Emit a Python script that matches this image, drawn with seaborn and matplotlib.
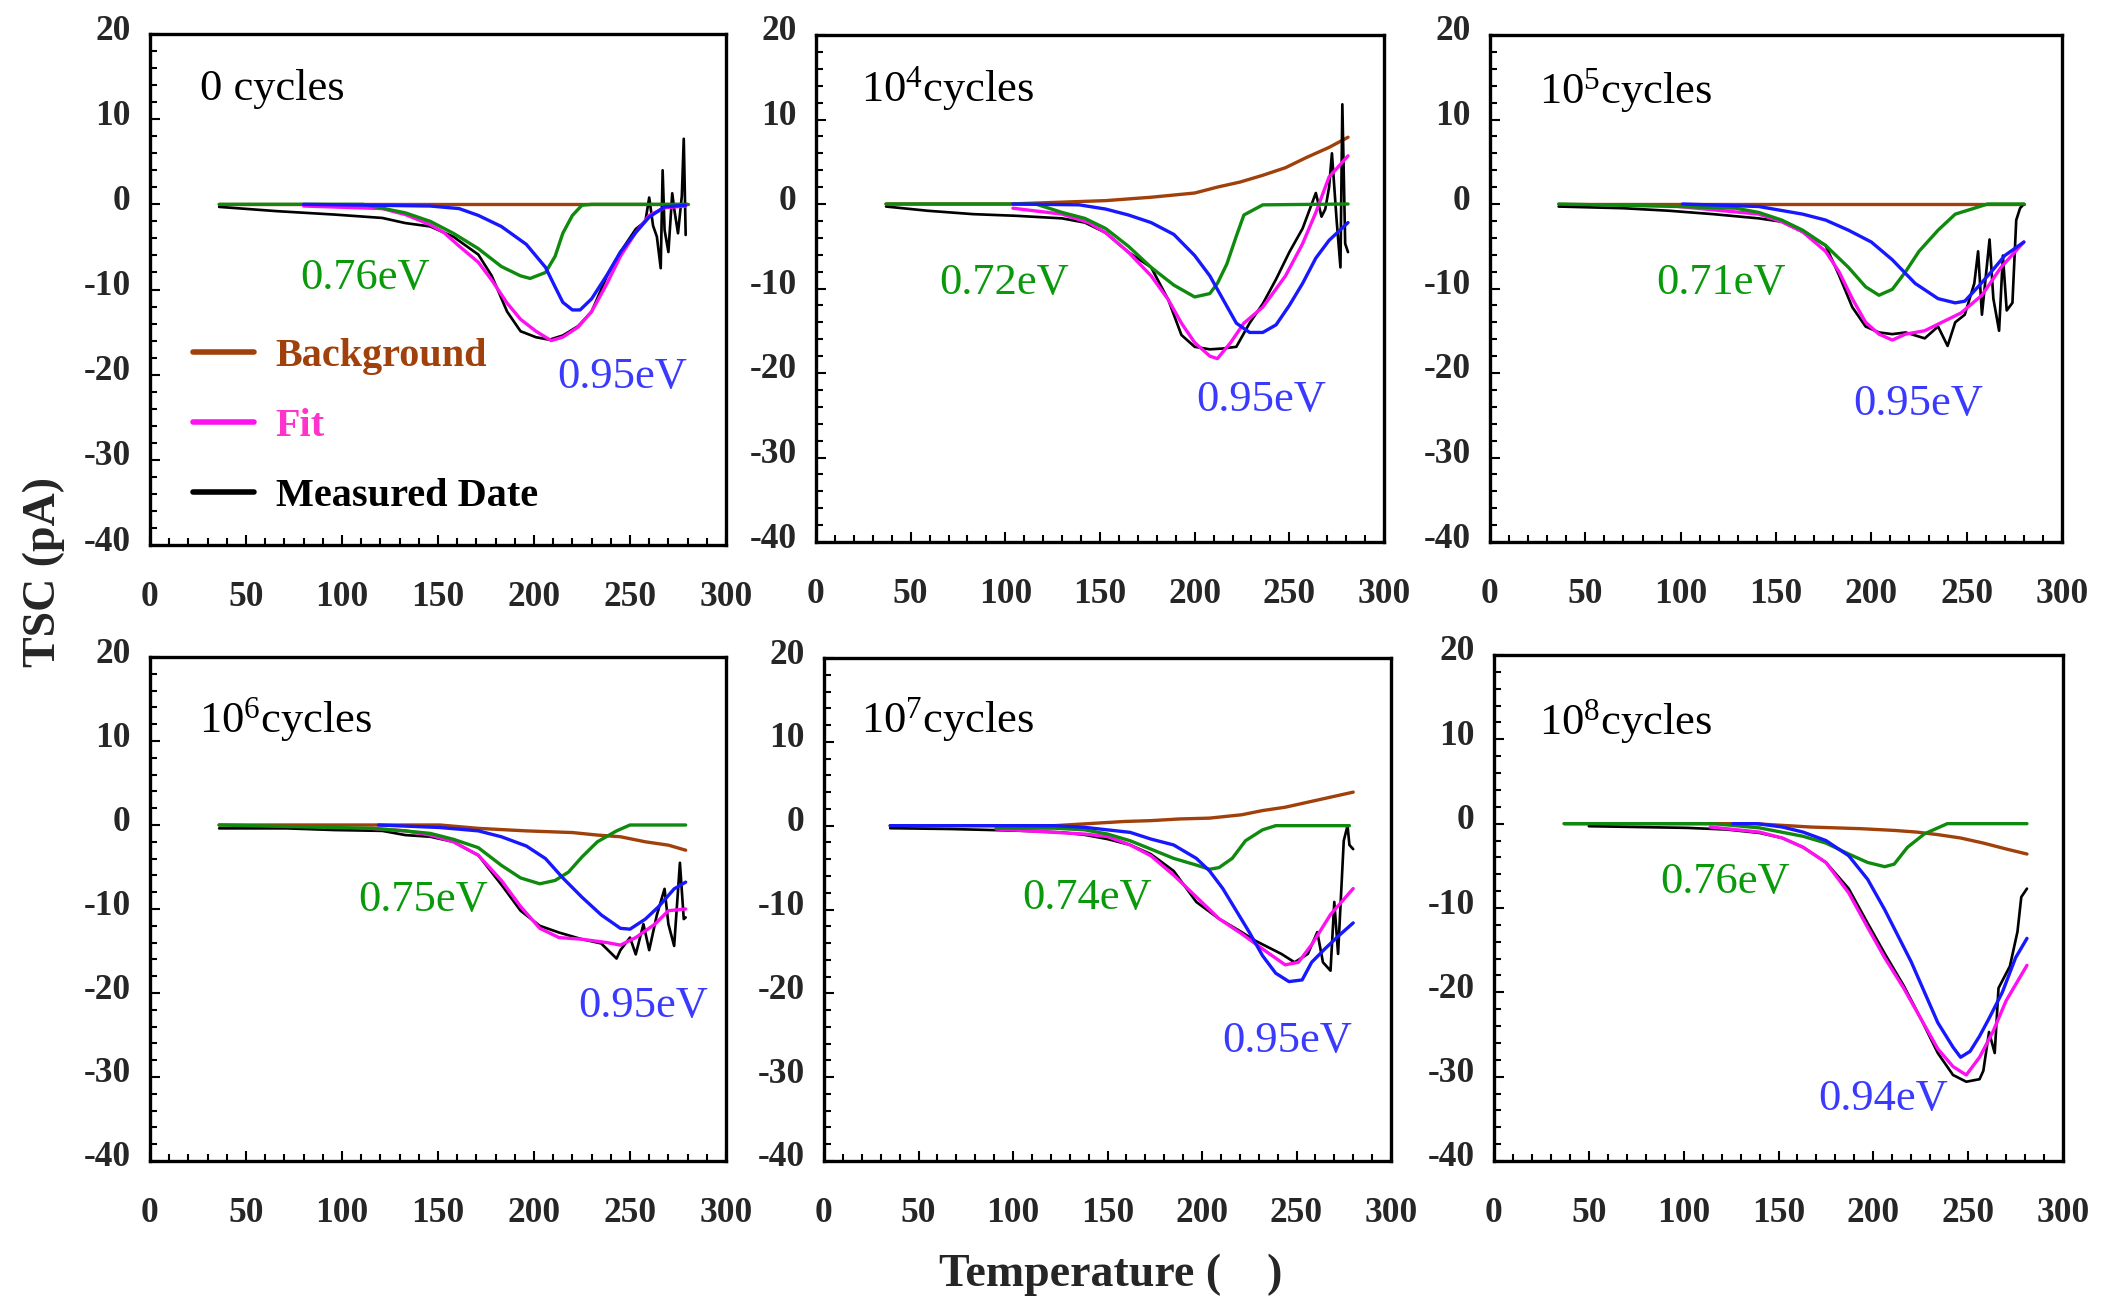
import numpy as np
import pandas as pd
import seaborn as sns
import matplotlib
matplotlib.use("Agg")
import matplotlib.pyplot as plt
import matplotlib.transforms as mtransforms
from matplotlib.ticker import MultipleLocator

# ---------------- data ----------------
panel_titles = ["0 cycles", "10$^{4}$cycles", "10$^{5}$cycles",
                "10$^{6}$cycles", "10$^{7}$cycles", "10$^{8}$cycles"]
low_peak_labels = ["0.76eV", "0.72eV", "0.71eV", "0.75eV", "0.74eV", "0.76eV"]
high_peak_labels = ["0.95eV", "0.95eV", "0.95eV", "0.95eV", "0.95eV", "0.94eV"]
legend_labels = ["Background", "Fit", "Measured Date"]

# Panel 1 : 0 cycles
p1_bg_T = [36, 120, 230, 280]
p1_bg_I = [0, 0, 0, 0]
p1_lo_T = [36, 111, 133, 146, 158, 171, 183, 193, 198, 206, 211, 215, 220, 225, 230, 280]
p1_lo_I = [0, 0, -1.0, -2.0, -3.4, -5.2, -7.3, -8.4, -8.7, -8.0, -6.1, -3.4, -1.3, -0.1, 0, 0]
p1_hi_T = [80, 146, 161, 171, 183, 196, 206, 211, 215, 220, 224, 230, 238, 245, 253, 260, 268, 279]
p1_hi_I = [0, -0.2, -0.5, -1.3, -2.6, -4.7, -7.4, -9.7, -11.5, -12.4, -12.4, -11.1, -8.3, -5.6, -3.3, -1.5, -0.3, -0.1]
p1_fit_T = [80, 121, 133, 146, 153, 161, 171, 178, 186, 193, 201, 209, 215, 223, 230, 238, 245, 253, 260, 268, 279]
p1_fit_I = [-0.2, -0.5, -1.2, -2.4, -3.3, -4.9, -6.8, -8.9, -11.6, -13.5, -14.9, -16.0, -15.6, -14.4, -12.6, -9.3, -6.1, -3.3, -1.3, -0.4, -0.2]
p1_ms_T = [36, 66, 96, 121, 133, 146, 158, 171, 178, 186, 193, 201, 208, 215, 223, 230, 238, 245, 253,
           258, 260, 262, 264, 266, 267, 268, 270, 272, 273, 275, 277, 278, 279]
p1_ms_I = [-0.3, -0.8, -1.2, -1.6, -2.2, -2.6, -3.8, -5.9, -8.4, -12.6, -14.9, -15.6, -15.9, -15.4, -14.3, -12.6, -8.4, -5.6, -2.9,
           -2.0, 0.8, -2.5, -3.8, -7.5, 4.0, -3.0, -5.6, 1.3, -0.5, -3.4, 1.0, 7.7, -3.6]

# Panel 2 : 10^4 cycles
p2_bg_T = [37, 102, 153, 177, 200, 212, 224, 236, 248, 259, 271, 281]
p2_bg_I = [0, 0, 0.4, 0.8, 1.3, 2.0, 2.6, 3.4, 4.3, 5.5, 6.7, 7.9]
p2_lo_T = [37, 116, 130, 142, 153, 165, 177, 189, 200, 208, 212, 217, 222, 226, 236, 281]
p2_lo_I = [0, 0, -1.0, -1.7, -2.9, -5.0, -7.5, -9.6, -11.0, -10.6, -9.4, -7.1, -3.8, -1.3, -0.1, 0]
p2_hi_T = [104, 139, 153, 165, 177, 189, 200, 208, 215, 222, 229, 236, 243, 250, 257, 264, 271, 281]
p2_hi_I = [0, -0.1, -0.6, -1.3, -2.2, -3.6, -6.1, -8.5, -11.3, -14.1, -15.2, -15.2, -14.3, -12.0, -9.4, -6.4, -4.3, -2.2]
p2_fit_T = [104, 130, 144, 153, 165, 177, 186, 193, 200, 208, 212, 219, 226, 236, 248, 257, 264, 271, 281]
p2_fit_I = [-0.5, -1.2, -2.2, -3.4, -5.7, -8.5, -11.3, -14.1, -16.4, -18.0, -18.3, -16.4, -14.1, -12.2, -8.5, -4.7, -1.0, 3.2, 5.7]
p2_ms_T = [37, 59, 83, 106, 130, 142, 153, 165, 177, 186, 193, 200, 208, 215, 222, 229, 236, 243, 250, 257,
           264, 267, 269, 271, 272.5, 275, 277, 278, 279.5, 281]
p2_ms_I = [-0.3, -0.8, -1.2, -1.4, -1.7, -2.2, -3.4, -5.7, -7.5, -11.3, -15.5, -16.9, -17.2, -17.1, -16.9, -14.1, -11.8, -8.9, -5.7, -2.9,
           1.3, -1.5, -0.6, 2.0, 6.0, -2.0, -7.5, 11.8, -4.7, -5.7]

# Panel 3 : 10^5 cycles
p3_bg_T = [36, 141, 260, 280]
p3_bg_I = [0, 0, 0, 0]
p3_lo_T = [36, 99, 129, 141, 153, 164, 176, 188, 197, 204, 211, 218, 225, 235, 244, 254, 261, 280]
p3_lo_I = [0, -0.3, -0.5, -1.0, -1.9, -3.1, -4.9, -7.5, -9.8, -10.8, -10.1, -8.0, -5.6, -3.1, -1.2, -0.5, 0, 0]
p3_hi_T = [101, 141, 164, 176, 188, 200, 211, 223, 235, 244, 249, 256, 263, 270, 280]
p3_hi_I = [0, -0.3, -1.2, -1.9, -3.1, -4.5, -6.6, -9.4, -11.2, -11.7, -11.5, -9.8, -8.0, -6.1, -4.5]
p3_fit_T = [99, 141, 153, 164, 176, 183, 190, 197, 204, 211, 218, 228, 237, 247, 258, 268, 280]
p3_fit_I = [-0.3, -1.2, -2.1, -3.3, -5.6, -8.0, -11.2, -14.0, -15.4, -16.1, -15.4, -15.0, -14.0, -12.9, -10.8, -7.5, -4.5]
p3_ms_T = [36, 70, 94, 117, 141, 153, 164, 176, 183, 190, 197, 204, 211, 218, 228, 235, 240, 244, 249, 254,
           256, 258, 262, 264, 267, 269, 271, 274, 276, 278, 280]
p3_ms_I = [-0.3, -0.5, -0.8, -1.2, -1.7, -2.1, -3.3, -4.9, -8.4, -12.2, -14.5, -15.2, -15.4, -15.2, -15.9, -14.5, -16.8, -14.0, -13.1, -9.4,
           -5.6, -13.1, -4.2, -11.2, -15.0, -6.1, -12.6, -11.7, -1.9, -0.5, 0]

# Panel 4 : 10^6 cycles
p4_bg_T = [36, 151, 171, 196, 220, 233, 245, 258, 270, 279]
p4_bg_I = [0, 0, -0.4, -0.7, -0.9, -1.2, -1.4, -2.0, -2.4, -3.0]
p4_lo_T = [36, 116, 133, 146, 158, 171, 183, 193, 203, 211, 218, 225, 233, 243, 250, 279]
p4_lo_I = [0, -0.4, -0.7, -1.0, -1.7, -2.7, -4.8, -6.3, -7.0, -6.6, -5.6, -3.8, -2.0, -0.7, 0, 0]
p4_hi_T = [119, 151, 171, 183, 196, 206, 215, 225, 235, 245, 250, 258, 265, 273, 279]
p4_hi_I = [0, -0.3, -0.7, -1.4, -2.5, -4.0, -6.3, -8.6, -10.7, -12.3, -12.4, -11.2, -9.7, -7.6, -6.8]
p4_fit_T = [115, 133, 146, 158, 171, 183, 193, 203, 213, 225, 238, 245, 253, 263, 270, 279]
p4_fit_I = [-0.4, -0.7, -1.2, -2.0, -3.6, -6.6, -9.7, -12.3, -13.4, -13.6, -14.0, -14.3, -13.4, -11.8, -10.2, -10.0]
p4_ms_T = [36, 71, 96, 121, 133, 146, 158, 171, 183, 193, 203, 213, 225, 235, 243, 245, 250, 253, 257, 260,
           264, 268, 270, 273, 276, 278, 279]
p4_ms_I = [-0.4, -0.4, -0.6, -0.7, -1.2, -1.4, -2.0, -3.6, -7.1, -10.2, -12.0, -12.8, -13.6, -14.1, -15.9, -14.9, -13.4, -15.4, -11.8, -14.9,
           -10.7, -7.6, -11.8, -14.4, -4.5, -11.2, -11.0]

# Panel 5 : 10^7 cycles
p5_bg_T = [35, 122, 159, 173, 188, 204, 221, 232, 244, 256, 268, 280]
p5_bg_I = [0, 0, 0.5, 0.6, 0.8, 0.9, 1.3, 1.8, 2.2, 2.8, 3.4, 4.0]
p5_lo_T = [91, 122, 138, 150, 162, 173, 185, 197, 204, 209, 216, 223, 232, 239, 278]
p5_lo_I = [-0.3, -0.3, -0.5, -1.0, -1.8, -2.8, -3.9, -4.7, -5.2, -5.0, -3.9, -1.8, -0.5, 0, 0]
p5_hi_T = [35, 122, 138, 162, 173, 185, 197, 204, 211, 218, 225, 232, 239, 246, 253, 258, 265, 272, 280]
p5_hi_I = [0, 0, -0.2, -0.8, -1.6, -2.3, -3.9, -5.4, -7.5, -10.1, -12.7, -15.5, -17.6, -18.6, -18.4, -16.3, -14.7, -13.2, -11.6]
p5_fit_T = [91, 122, 138, 150, 162, 173, 185, 197, 209, 221, 232, 244, 251, 258, 268, 280]
p5_fit_I = [-0.4, -0.8, -1.0, -1.3, -2.3, -3.6, -5.9, -8.5, -11.1, -12.9, -14.7, -16.6, -16.3, -14.2, -10.6, -7.5]
p5_ms_T = [35, 67, 103, 126, 138, 150, 162, 173, 185, 197, 209, 221, 228, 235, 242, 249, 256, 261, 264, 268,
           270, 272, 275, 277, 278, 280]
p5_ms_I = [-0.3, -0.4, -0.6, -0.8, -1.1, -1.6, -2.3, -3.4, -5.4, -9.1, -11.1, -12.7, -13.7, -14.5, -15.3, -16.3, -15.3, -12.7, -16.3, -17.3,
           -9.1, -15.3, -1.8, 0, -2.3, -2.8]

# Panel 6 : 10^8 cycles
p6_bg_T = [37, 137, 167, 194, 211, 223, 234, 246, 258, 270, 281]
p6_bg_I = [0, 0, -0.4, -0.6, -0.8, -1.0, -1.3, -1.7, -2.3, -3.0, -3.6]
p6_lo_T = [37, 116, 140, 163, 175, 187, 197, 206, 211, 218, 227, 234, 239, 281]
p6_lo_I = [0, 0, -0.5, -1.5, -2.3, -3.6, -4.6, -5.1, -4.8, -2.8, -1.2, -0.5, 0, 0]
p6_hi_T = [126, 139, 152, 163, 175, 187, 197, 206, 213, 220, 227, 234, 242, 246, 251, 256, 261, 268, 275, 281]
p6_hi_I = [0, 0, -0.4, -1.0, -2.0, -3.8, -6.6, -10.2, -13.3, -16.4, -20.0, -23.6, -26.5, -27.7, -27.0, -25.2, -23.1, -20.0, -15.9, -13.6]
p6_fit_T = [114, 140, 152, 163, 175, 187, 197, 206, 216, 225, 234, 242, 249, 256, 263, 270, 281]
p6_fit_I = [-0.4, -1.0, -1.7, -2.8, -4.6, -8.2, -12.3, -15.9, -19.5, -23.1, -26.7, -28.8, -29.8, -27.7, -24.7, -21.0, -16.8]
p6_ms_T = [50, 102, 123, 140, 152, 163, 175, 187, 197, 206, 216, 225, 234, 242, 249, 256, 258, 261, 264, 266,
           272, 276, 278, 281]
p6_ms_I = [-0.3, -0.5, -0.7, -1.1, -1.7, -2.8, -4.6, -7.7, -11.8, -15.4, -19.2, -23.1, -27.2, -29.8, -30.6, -30.3, -29.3, -24.7, -27.2, -19.5,
           -16.9, -12.8, -8.7, -7.7]

panels = [
    (p1_bg_T, p1_bg_I, p1_lo_T, p1_lo_I, p1_hi_T, p1_hi_I, p1_fit_T, p1_fit_I, p1_ms_T, p1_ms_I),
    (p2_bg_T, p2_bg_I, p2_lo_T, p2_lo_I, p2_hi_T, p2_hi_I, p2_fit_T, p2_fit_I, p2_ms_T, p2_ms_I),
    (p3_bg_T, p3_bg_I, p3_lo_T, p3_lo_I, p3_hi_T, p3_hi_I, p3_fit_T, p3_fit_I, p3_ms_T, p3_ms_I),
    (p4_bg_T, p4_bg_I, p4_lo_T, p4_lo_I, p4_hi_T, p4_hi_I, p4_fit_T, p4_fit_I, p4_ms_T, p4_ms_I),
    (p5_bg_T, p5_bg_I, p5_lo_T, p5_lo_I, p5_hi_T, p5_hi_I, p5_fit_T, p5_fit_I, p5_ms_T, p5_ms_I),
    (p6_bg_T, p6_bg_I, p6_lo_T, p6_lo_I, p6_hi_T, p6_hi_I, p6_fit_T, p6_fit_I, p6_ms_T, p6_ms_I),
]

# ---------------- layout / style ----------------
W, H = 2104, 1300
rects_px = [(150, 726, 34, 545), (816, 1384, 35, 542), (1490, 2062, 35, 542),
            (150, 726, 657, 1161), (824, 1391, 658, 1161), (1494, 2063, 655, 1161)]
title_pos = [(26, 13.5), (24, 13.6), (25.8, 13.4), (25.4, 12.5), (19.6, 12.6), (23.7, 12.1)]
lo_pos = [(78, -8.6), (65, -9.3), (87.4, -9.4), (108.6, -8.9), (105, -8.6), (87.6, -6.9)]
hi_pos = [(212, -20.3), (200.6, -23.2), (190.7, -23.7), (223, -21.6), (210.6, -25.7), (171, -32.7)]

C_BG = "#A0400A"
C_FIT = "#FF10F0"
C_MS = "#000000"
C_LO = "#0F8A0F"
C_HI = "#1818FF"
C_LO_TXT = "#0A990A"
C_HI_TXT = "#3A3AFF"
C_FIT_TXT = "#FF33CC"

sns.set_theme(style="white")
plt.rcParams["font.family"] = ["Liberation Serif", "DejaVu Serif"]
plt.rcParams["mathtext.fontset"] = "custom"
plt.rcParams["mathtext.rm"] = "Liberation Serif"
plt.rcParams["mathtext.default"] = "regular"
plt.rcParams["axes.unicode_minus"] = False

fig = plt.figure(figsize=(W / 100, H / 100), dpi=100)
fig.patch.set_facecolor("white")

lw = 2.4
for k, (rect, data) in enumerate(zip(rects_px, panels)):
    l, r, t, b = rect
    ax = fig.add_axes([l / W, 1 - b / H, (r - l) / W, (b - t) / H])
    ax.set_facecolor("white")
    bgT, bgI, loT, loI, hiT, hiI, fitT, fitI, msT, msI = data
    sns.lineplot(x=bgT, y=bgI, ax=ax, color=C_BG, linewidth=lw, sort=False, estimator=None)
    h_bg = ax.lines[-1]
    sns.lineplot(x=msT, y=msI, ax=ax, color=C_MS, linewidth=lw * 0.8, sort=False, estimator=None)
    h_ms = ax.lines[-1]
    sns.lineplot(x=fitT, y=fitI, ax=ax, color=C_FIT, linewidth=lw, sort=False, estimator=None)
    h_fit = ax.lines[-1]
    sns.lineplot(x=loT, y=loI, ax=ax, color=C_LO, linewidth=lw, sort=False, estimator=None)
    sns.lineplot(x=hiT, y=hiI, ax=ax, color=C_HI, linewidth=lw, sort=False, estimator=None)

    ax.set_xlim(0, 300)
    ax.set_ylim(-40, 20)
    ax.xaxis.set_major_locator(MultipleLocator(50))
    ax.xaxis.set_minor_locator(MultipleLocator(10))
    ax.yaxis.set_major_locator(MultipleLocator(10))
    ax.yaxis.set_minor_locator(MultipleLocator(2))
    ax.tick_params(which="both", direction="in", left=True, bottom=True, top=False, right=False,
                   width=1.5, color="black")
    ax.tick_params(which="major", length=7)
    ax.tick_params(which="minor", length=5)
    ax.tick_params(axis="x", which="major", pad=26, labelsize=25.5)
    ax.tick_params(axis="y", which="major", pad=14, labelsize=25.5)
    for lab in ax.get_xticklabels() + ax.get_yticklabels():
        lab.set_fontweight("bold")
    for lab in ax.get_yticklabels():
        lab.set_transform(lab.get_transform() + mtransforms.ScaledTranslation(0, 7 / 100, fig.dpi_scale_trans))
    for sp in ax.spines.values():
        sp.set_linewidth(2.4)
        sp.set_color("black")
        sp.set_visible(True)
    ax.set_xlabel("")
    ax.set_ylabel("")
    ax.grid(False)

    ax.text(title_pos[k][0], title_pos[k][1], panel_titles[k], fontsize=32,
            ha="left", va="center", color="black")
    ax.text(lo_pos[k][0], lo_pos[k][1], low_peak_labels[k], fontsize=32,
            ha="left", va="center", color=C_LO_TXT)
    ax.text(hi_pos[k][0], hi_pos[k][1], high_peak_labels[k], fontsize=32,
            ha="left", va="center", color=C_HI_TXT)

    if ax.get_legend() is not None:
        ax.get_legend().remove()
    if k == 0:
        leg = ax.legend([h_bg, h_fit, h_ms], legend_labels, loc="upper left",
                        bbox_to_anchor=(0.075, 0.405), frameon=False, borderpad=0,
                        borderaxespad=0, handlelength=1.5, handletextpad=0.55,
                        labelspacing=0.81,
                        prop={"family": "Liberation Serif", "weight": "bold", "size": 29})
        for txt, c in zip(leg.get_texts(), [C_BG, C_FIT_TXT, C_MS]):
            txt.set_color(c)
        for ln in leg.get_lines():
            ln.set_linewidth(4.0)

fig.text(44 / W, 1 - 572 / H, "TSC (pA)", rotation=90, ha="center", va="center",
         fontsize=33, fontweight="bold")
fig.text(1111 / W, 1 - 1275 / H, "Temperature (    )", ha="center", va="center",
         fontsize=33, fontweight="bold")

fig.savefig("out.png", dpi=100, facecolor="white")
